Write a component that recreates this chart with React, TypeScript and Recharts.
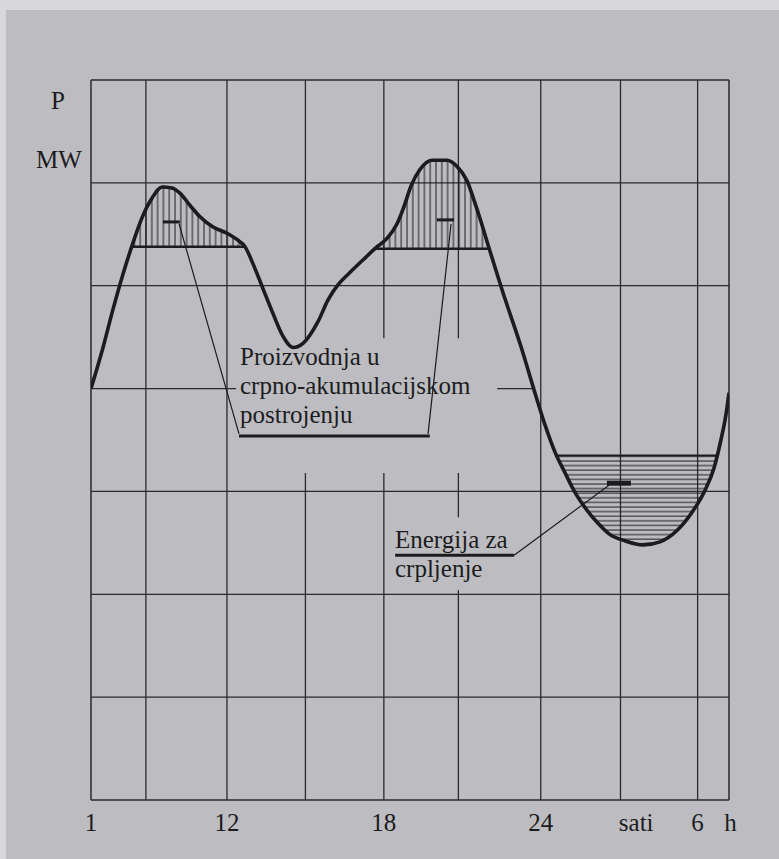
import React from 'react';
import { ComposedChart, Line, Area, XAxis, YAxis, ReferenceLine, ReferenceArea } from 'recharts';

// load curve (h = hours, mw = power level on the 0..7 grid)
const curveHours = [6.8, 7.26, 7.64, 8.02, 8.37, 8.75, 9.13, 9.52, 9.9, 10.2, 10.59, 10.97, 11.47, 12.0, 12.38, 12.69, 13.0, 13.38, 13.76, 14.14, 14.53, 14.91, 15.48, 15.86, 16.25, 16.71, 17.24, 17.7, 18.12, 18.5, 18.77, 19.04, 19.38, 19.84, 20.41, 20.8, 21.18, 21.45, 21.72, 21.98, 22.52, 23.28, 23.74, 24.16, 24.55, 24.93, 25.31, 25.73, 26.19, 26.65, 27.22, 27.91, 28.56, 29.21, 29.82, 30.28, 30.63, 30.89, 31.08, 31.2];
const curveMW = [4.0, 4.4, 4.77, 5.11, 5.39, 5.66, 5.85, 5.96, 5.95, 5.9, 5.78, 5.67, 5.57, 5.51, 5.45, 5.38, 5.21, 4.97, 4.73, 4.51, 4.4, 4.44, 4.65, 4.86, 5.01, 5.13, 5.26, 5.37, 5.46, 5.6, 5.77, 5.97, 6.13, 6.22, 6.22, 6.16, 6.02, 5.83, 5.62, 5.4, 4.96, 4.38, 3.99, 3.65, 3.38, 3.18, 2.99, 2.83, 2.69, 2.58, 2.52, 2.48, 2.51, 2.62, 2.81, 3.01, 3.23, 3.5, 3.74, 3.96];

// hatched areas
const peak1Hours = [8.37, 8.75, 9.13, 9.52, 9.9, 10.2, 10.59, 10.97, 11.47, 12.0, 12.38, 12.69];
const peak1MW = [5.39, 5.66, 5.85, 5.96, 5.95, 5.9, 5.78, 5.67, 5.57, 5.51, 5.45, 5.38];
const peak1Base = 5.38;
const peak2Hours = [17.66, 18.12, 18.5, 18.77, 19.04, 19.38, 19.84, 20.41, 20.8, 21.18, 21.45, 21.72, 21.98, 22.03];
const peak2MW = [5.36, 5.46, 5.6, 5.77, 5.97, 6.13, 6.22, 6.22, 6.16, 6.02, 5.83, 5.62, 5.4, 5.36];
const peak2Base = 5.36;
const pumpHours = [24.61, 24.93, 25.31, 25.73, 26.19, 26.65, 27.22, 27.91, 28.56, 29.21, 29.82, 30.28, 30.63, 30.73];
const pumpMW = [3.35, 3.18, 2.99, 2.83, 2.69, 2.58, 2.52, 2.48, 2.51, 2.62, 2.81, 3.01, 3.23, 3.35];
const pumpLevel = 3.35;

// grid
const xDomain = [6.8, 31.2];
const yDomain = [0, 7];
const gridHours = [8.9, 12, 15, 18, 20.85, 24, 27.05, 30];
const gridLevels = [1, 2, 3, 5, 6];
const shortLevel = [4, 23.75]; // level 4 only runs up to the curve

// axis labels
const tickHours = [6.8, 12, 18, 24, 27.65, 30];
const tickLabels = ['1', '12', '18', '24', 'sati', '6'];
const unitLabel = 'h';

// annotation marks
const dashProd1 = [9.55, 10.2, 5.62];
const dashProd2 = [20.03, 20.68, 5.64];
const dashPump = [26.53, 27.45, 3.08];
const leaderProd1 = [10.17, 5.6, 12.46, 3.56];
const leaderProd2 = [20.57, 5.6, 19.69, 3.56];
const underlineProd = [12.46, 19.76, 3.54];
const leaderPump = [26.61, 3.06, 22.98, 2.38];
const underlinePump = [18.43, 22.98, 2.38];
// paper left blank behind the labels
const blankProd = [12.35, 22.33, 3.18, 4.49];
const blankPump = [18.23, 23.2, 2.04, 2.75];

const curveData = curveHours.map((h, i) => ({ h, mw: curveMW[i] }));
const peak1Data = peak1Hours.map((h, i) => ({ h, band: [peak1Base, Math.max(peak1Base, peak1MW[i])] }));
const peak2Data = peak2Hours.map((h, i) => ({ h, band: [peak2Base, Math.max(peak2Base, peak2MW[i])] }));
const pumpData = pumpHours.map((h, i) => ({ h, band: [Math.min(pumpLevel, pumpMW[i]), pumpLevel] }));

const PAPER = '#bdbdc1';
const INK = '#1c1c1e';
const GRID = '#2a2a2d';
const FONT = "'Liberation Serif', 'Times New Roman', serif";

const XTick = (props: any) => {
  const { x, y, payload } = props;
  const i = tickHours.indexOf(payload.value);
  return (
    <g>
      <text x={x} y={y} dy={31} textAnchor="middle" fill={INK} fontSize={25} fontFamily={FONT}>
        {tickLabels[i]}
      </text>
      {payload.value === 30 && (
        <text x={x + 33} y={y} dy={31} textAnchor="middle" fill={INK} fontSize={25} fontFamily={FONT}>
          {unitLabel}
        </text>
      )}
    </g>
  );
};

const seg = (x1: number, y1: number, x2: number, y2: number) => [{ x: x1, y: y1 }, { x: x2, y: y2 }] as any;

export default function App() {
  const textStyle: React.CSSProperties = {
    position: 'absolute',
    fontFamily: FONT,
    fontSize: 25,
    color: INK,
    whiteSpace: 'pre',
  };

  return (
    <div style={{ position: 'absolute', left: 0, top: 0, width: 779, height: 859, background: '#d8d8da', overflow: 'hidden' }}>
      <div style={{ position: 'absolute', left: 6, top: 10, width: 773, height: 849, background: PAPER }} />
      <div style={{ position: 'absolute', left: 0, top: 0 }}>
        <ComposedChart width={779} height={859} data={curveData} margin={{ top: 80, right: 50, left: 91, bottom: 19 }}>
          <defs>
            <pattern id="vhatch" patternUnits="userSpaceOnUse" width={5.8} height={8}>
              <line x1={1} y1={0} x2={1} y2={8} stroke={INK} strokeWidth={1} />
            </pattern>
            <pattern id="hhatch" patternUnits="userSpaceOnUse" width={8} height={4.6}>
              <line x1={0} y1={1} x2={8} y2={1} stroke={INK} strokeWidth={1} />
            </pattern>
          </defs>
          <XAxis
            type="number"
            dataKey="h"
            domain={xDomain}
            ticks={tickHours}
            interval={0}
            axisLine={false}
            tickLine={false}
            tickSize={0}
            tickMargin={0}
            height={40}
            tick={<XTick />}
            allowDataOverflow
          />
          <YAxis type="number" domain={yDomain} hide allowDataOverflow />

          {gridHours.map((h) => (
            <ReferenceLine key={'gx' + h} x={h} stroke={GRID} strokeWidth={1.3} zIndex={-100} />
          ))}
          {gridLevels.map((v) => (
            <ReferenceLine key={'gy' + v} y={v} stroke={GRID} strokeWidth={1.3} zIndex={-100} />
          ))}
          <ReferenceLine segment={seg(xDomain[0], shortLevel[0], shortLevel[1], shortLevel[0])} stroke={GRID} strokeWidth={1.3} zIndex={-100} />
          <ReferenceLine x={xDomain[0]} stroke={GRID} strokeWidth={1.5} zIndex={-100} />
          <ReferenceLine x={xDomain[1]} stroke={GRID} strokeWidth={1.5} zIndex={-100} />
          <ReferenceLine y={yDomain[0]} stroke={GRID} strokeWidth={1.5} zIndex={-100} />
          <ReferenceLine y={yDomain[1]} stroke={GRID} strokeWidth={1.5} zIndex={-100} />

          <ReferenceArea x1={blankProd[0]} x2={blankProd[1]} y1={blankProd[2]} y2={blankProd[3]} fill={PAPER} fillOpacity={1} stroke="none" zIndex={-60} />
          <ReferenceArea x1={blankPump[0]} x2={blankPump[1]} y1={blankPump[2]} y2={blankPump[3]} fill={PAPER} fillOpacity={1} stroke="none" zIndex={-60} />

          <Area data={peak1Data} dataKey="band" type="monotone" fill="url(#vhatch)" fillOpacity={1} stroke={INK} strokeWidth={2.5} isAnimationActive={false} dot={false} activeDot={false} zIndex={100} />
          <Area data={peak2Data} dataKey="band" type="monotone" fill="url(#vhatch)" fillOpacity={1} stroke={INK} strokeWidth={2.5} isAnimationActive={false} dot={false} activeDot={false} zIndex={100} />
          <Area data={pumpData} dataKey="band" type="monotone" fill="url(#hhatch)" fillOpacity={1} stroke={INK} strokeWidth={2} isAnimationActive={false} dot={false} activeDot={false} zIndex={100} />

          <Line dataKey="mw" type="monotone" stroke={INK} strokeWidth={3.6} dot={false} activeDot={false} isAnimationActive={false} zIndex={400} />

          <ReferenceLine segment={seg(dashProd1[0], dashProd1[2], dashProd1[1], dashProd1[2])} stroke={INK} strokeWidth={3} zIndex={450} />
          <ReferenceLine segment={seg(dashProd2[0], dashProd2[2], dashProd2[1], dashProd2[2])} stroke={INK} strokeWidth={3} zIndex={450} />
          <ReferenceLine segment={seg(dashPump[0], dashPump[2], dashPump[1], dashPump[2])} stroke={INK} strokeWidth={5} zIndex={450} />
          <ReferenceLine segment={seg(leaderProd1[0], leaderProd1[1], leaderProd1[2], leaderProd1[3])} stroke={INK} strokeWidth={1.2} zIndex={450} />
          <ReferenceLine segment={seg(leaderProd2[0], leaderProd2[1], leaderProd2[2], leaderProd2[3])} stroke={INK} strokeWidth={1.2} zIndex={450} />
          <ReferenceLine segment={seg(underlineProd[0], underlineProd[2], underlineProd[1], underlineProd[2])} stroke={INK} strokeWidth={3} zIndex={450} />
          <ReferenceLine segment={seg(leaderPump[0], leaderPump[1], leaderPump[2], leaderPump[3])} stroke={INK} strokeWidth={1.2} zIndex={450} />
          <ReferenceLine segment={seg(underlinePump[0], underlinePump[2], underlinePump[1], underlinePump[2])} stroke={INK} strokeWidth={3} zIndex={450} />
        </ComposedChart>
      </div>

      <div style={{ ...textStyle, left: 28, top: 88, width: 60, textAlign: 'center', lineHeight: '25px' }}>P</div>
      <div style={{ ...textStyle, left: 29, top: 147, width: 60, textAlign: 'center', lineHeight: '25px' }}>MW</div>
      <div style={{ ...textStyle, left: 240, top: 342, lineHeight: '29px' }}>
        {'Proizvodnja u\ncrpno-akumulacijskom\npostrojenju'}
      </div>
      <div style={{ ...textStyle, left: 395, top: 525, lineHeight: '29px' }}>
        {'Energija za\ncrpljenje'}
      </div>
    </div>
  );
}
